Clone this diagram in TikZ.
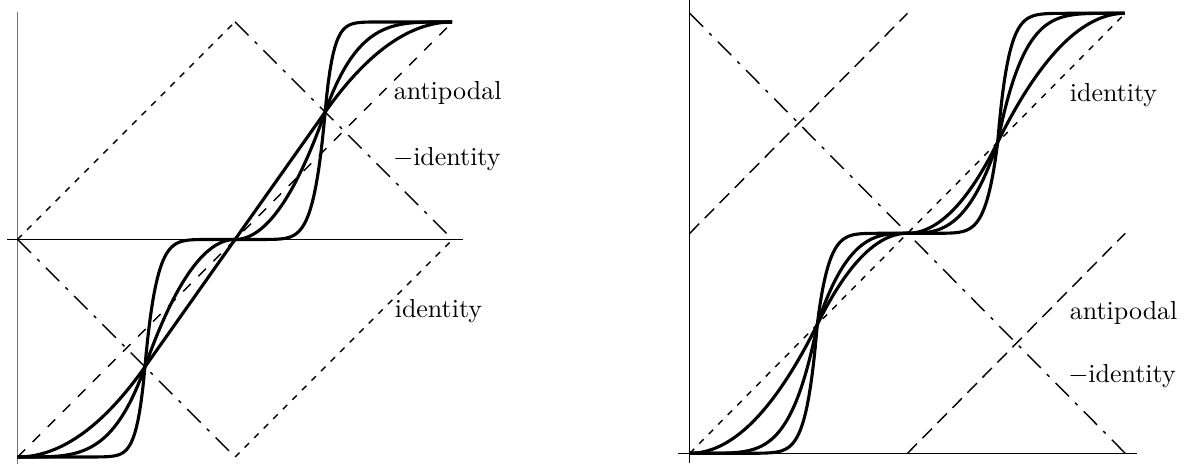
\documentclass[tikz,border=0pt]{standalone}
\usepackage{tikz}
\usetikzlibrary{calc}

% one lift: four power pieces, #1 = height at the crossing, #2/#3 = exponents
\newcommand{\liftcurve}[3]{%
  plot[domain=0:0.2929] (\x,{#1*(\x/0.2929)^#2})
  -- plot[domain=0.2929:0.5] (\x,{0.5-(0.5-#1)*((0.5-\x)/0.2071)^#3})
  -- plot[domain=0.5:0.7071] (\x,{0.5+(0.5-#1)*((\x-0.5)/0.2071)^#3})
  -- plot[domain=0.7071:1] (\x,{1-#1*((1-\x)/0.2929)^#2})}

\tikzset{
  curve/.style={line width=1.2pt, line join=round, samples=80},
  ident/.style={line width=0.55pt, dash pattern=on 2.4pt off 2.8pt},
  antip/.style={line width=0.55pt, dash pattern=on 4.1pt off 4.1pt},
  negid/.style={line width=0.55pt, dash pattern=on 7.3pt off 3.4pt on 1.3pt off 3.4pt},
  lbl/.style={anchor=base west, inner sep=0pt}
}

\begin{document}
\begin{tikzpicture}
\useasboundingbox (0,0) rectangle (16.06,6.278);

% left panel
\begin{scope}[shift={(0.237cm,0.095cm)}, x=5.886cm, y=5.886cm]
  \draw[black!55] (0,-0.016) -- (0,1.023);
  \draw (-0.024,0.5) -- (1.024,0.5);
  \draw[antip] (0,0) -- (1,1);
  \draw[ident] (0,0.5) -- (0.5,1);
  \draw[ident] (0.5,0) -- (1,0.5);
  \draw[negid] (0.5,1) -- (1,0.5);
  \draw[negid] (0,0.5) -- (0.5,0);
  \foreach \lo/\hi in {2/1,4/2,16/8}
    \draw[curve] \liftcurve{0.2071}{\lo}{\hi};
  \node[lbl] (antiL) at (0.864,0.821) {antipodal};
  \node[lbl] (negidL) at (0.862,0.671) {$-$identity};
  \node[lbl] (idL) at (0.866,0.3195) {identity};
\end{scope}

% right panel
\begin{scope}[shift={(9.332cm,0.145cm)}, x=5.892cm, y=5.953cm,
    antip/.style={line width=0.55pt, dash pattern=on 5.2pt off 3pt}]
  \draw (0,-0.022) -- (0,1.03);
  \draw (-0.027,0) -- (1.027,0);
  \draw[ident] (0,0) -- (1,1);
  \draw[antip] (0,0.5) -- (0.5,1);
  \draw[antip] (0.5,0) -- (1,0.5);
  \draw[negid] (0,1) -- (1,0);
  \foreach \lo/\hi in {2/2,5/3,12/8}
    \draw[curve] \liftcurve{0.2929}{\lo}{\hi};
  \node[lbl] (idR) at (0.8716,0.799) {identity};
  \node[lbl] (antiR) at (0.8716,0.303) {antipodal};
  \node[lbl] (negidR) at (0.868,0.16) {$-$identity};
\end{scope}
\end{tikzpicture}
\end{document}
